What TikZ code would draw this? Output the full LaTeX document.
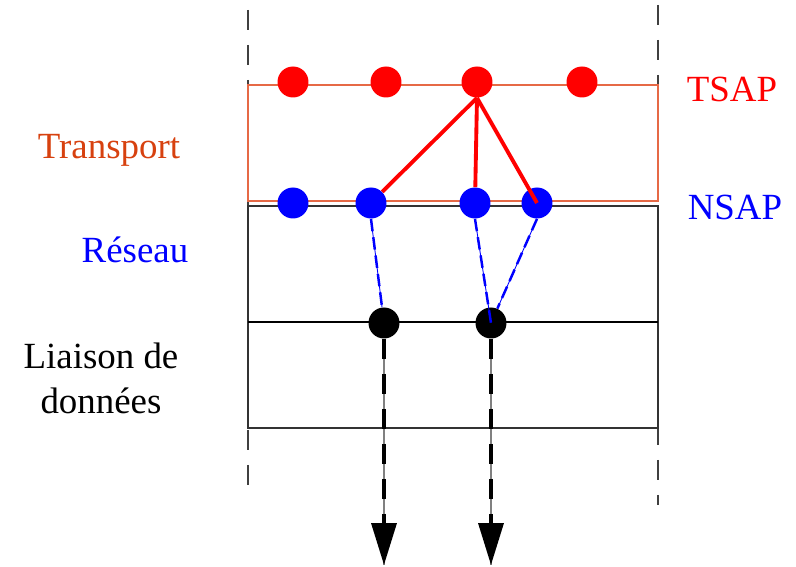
\documentclass[tikz,border=0pt]{standalone}
\usepackage{fontspec}
\setmainfont{Liberation Serif}
\usepackage{tikz}
\usetikzlibrary{arrows.meta}
\definecolor{transp}{RGB}{215,65,15}
\definecolor{transpbox}{RGB}{230,105,70}

\begin{document}
\begin{tikzpicture}[x=0.02cm, y=-0.02cm,
  every node/.style={font=\fontsize{21}{25.6}\selectfont},
  point/.style={circle, fill=#1, minimum size=0.62cm, inner sep=0pt},
  limite/.style={draw=black!75, line width=0.6pt, dash pattern=on 0.4cm off 0.3cm},
  lien/.style={draw=blue, line width=0.5pt,
    postaction={draw=blue, line width=1.4pt, dash pattern=on 0.25cm off 0.12cm}},
  sortie/.style={draw=black!50, line width=0.6pt,
    postaction={draw=black, line width=2pt, dash pattern=on 0.4cm off 0.3cm,
      -{Triangle[width=0.5cm,length=0.84cm]}}}
  ]
  \useasboundingbox (0,0) rectangle (796,567);

  % limites du systeme
  \coordinate (g1) at (248,10);  \coordinate (g2) at (248,490);
  \coordinate (d1) at (658,5);   \coordinate (d2) at (658,505);
  \path[limite] (g1) -- (g2);
  \path[limite] (d1) -- (d2);

  % couches
  \draw[transpbox, line width=0.8pt] (248,85) rectangle (658,201);
  \draw[black!80, line width=0.8pt] (248,206) rectangle (658,428);
  \draw[black, line width=0.8pt] (248,322) -- (658,322);

  \node[transp, anchor=base] (transport) at (109,159) {Transport};
  \node[blue, anchor=base] (reseau) at (135,263) {Réseau};
  \node[align=center] (liaison) at (101,378) {Liaison de\\données};
  \node[red, anchor=base] (tsap) at (732,102) {TSAP};
  \node[blue, anchor=base] (nsap) at (735,220) {NSAP};

  % points d'acces
  \node[point=red] (t1) at (293,82) {};
  \node[point=red] (t2) at (386,82) {};
  \node[point=red] (t3) at (477,82) {};
  \node[point=red] (t4) at (582,82) {};
  \node[point=blue] (n1) at (293,203) {};
  \node[point=blue] (n2) at (371,203) {};
  \node[point=blue] (n3) at (475,203) {};
  \node[point=blue] (n4) at (537,203) {};
  \node[point=black] (l1) at (384,323) {};
  \node[point=black] (l2) at (491,323) {};
  \coordinate (s1) at (384,565);
  \coordinate (s2) at (491,565);

  \path[draw=red, line width=2.2pt]
  (t3.south) edge (n2)
  edge (n3)
  edge (n4.center);
  \path (n2.south) edge[lien] (l1)
  (n3.south) edge[lien] (l2.center)
  (n4.south) edge[lien] (l2);
  \path (l1) edge[sortie] (s1)
  (l2) edge[sortie] (s2);
\end{tikzpicture}
\end{document}
